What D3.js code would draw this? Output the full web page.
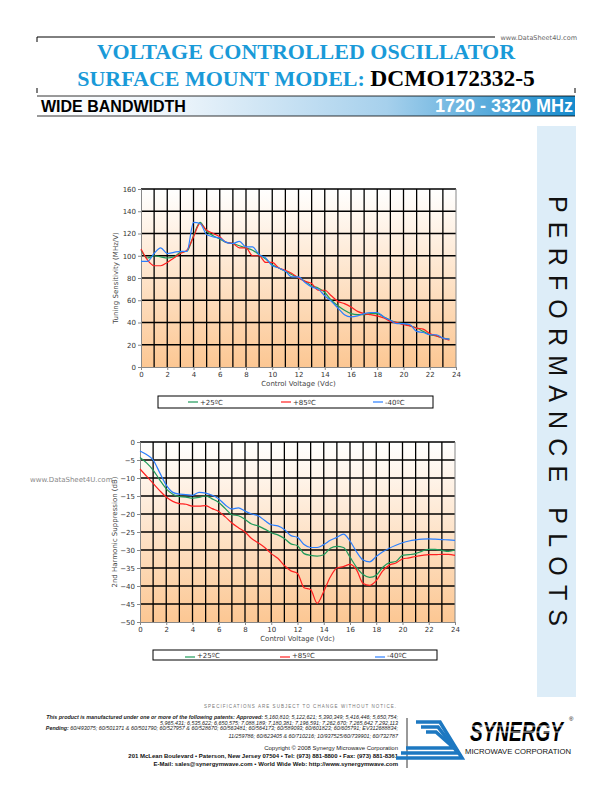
<!DOCTYPE html>
<html>
<head>
<meta charset="utf-8">
<script src="https://cdn.jsdelivr.net/npm/d3@7"></script>
<style>
  html, body { margin: 0; padding: 0; background: #fff; }
  svg { display: block; }
</style>
</head>
<body>
<div id="page"></div>
<script>
// ---- data ----
// Tuning sensitivity (MHz/V) vs control voltage, 0..23.5 V every 0.5 V
var tuneVolts = d3.range(0, 23.51, 0.5);
var tune25 = [105, 98, 100, 99, 98, 99, 103, 104, 118, 130, 122, 118, 115, 112, 111, 109, 107, 105, 101, 97,
  92, 89, 86, 83, 80, 77, 73, 71, 67, 60, 55, 51, 48, 47, 47, 48, 48, 45, 42, 40, 39, 37, 35, 32, 29, 28, 26, 25];
var tune85 = [106, 96, 91, 91, 94, 98, 102, 105, 117, 129, 123, 120, 117, 112, 111, 107, 107, 100, 100, 94,
  94, 89, 87, 84, 80, 77, 75, 69, 69, 64, 59, 57, 54, 50, 48, 47, 46, 44, 41, 40, 38, 37, 35, 34, 30, 28, 26, 24];
var tuneM40 = [95, 95, 102, 107, 102, 103, 104, 104, 130, 129, 119, 117, 116, 112, 111, 113, 108, 108, 101, 98,
  91, 89, 86, 81, 81, 76, 72, 70, 64, 59, 53, 47, 45, 46, 48, 49, 49, 45, 42, 39, 39, 38, 32, 31, 29, 29, 26, 25];

// 2nd harmonic suppression (dB) vs control voltage, 0..24 V every 0.5 V
var harmVolts = d3.range(0, 24.01, 0.5);
var harm25 = [-4.3, -5.8, -7.8, -10.5, -13, -14.5, -15.2, -15.3, -15.6, -15.4, -15, -15.8, -16.8, -18.5, -20.2, -20.5,
  -21.5, -22.8, -23.3, -24.2, -25.2, -25.8, -26.8, -28.3, -28.8, -31, -31.5, -31.7, -31.3, -29.5, -29, -29.3,
  -32, -34.8, -36.8, -37.6, -37, -34.8, -33.5, -33.2, -31.5, -31.3, -31, -30.3, -29.8, -29.8, -30.1, -30.4, -30];
var harm85 = [-7.5, -9.5, -11.5, -13.5, -15.3, -16.5, -17.1, -17.3, -17.8, -17.8, -17.7, -18.5, -19.3, -20.8, -22.5, -23.8,
  -25, -26.8, -28, -29.3, -31, -32.3, -34.3, -35.8, -36.5, -40.5, -41, -44.8, -41.5, -37.5, -35, -34.6,
  -34, -35.5, -39.3, -39.8, -38.5, -35.8, -34.2, -33.6, -32.5, -32.2, -31.8, -31.5, -31.3, -31.3, -31.2, -31.2, -31.5];
var harmM40 = [-2.5, -3.5, -5, -8.5, -12, -14, -14.5, -14.6, -14.8, -14, -14.2, -14.8, -15.8, -17.5, -18.6, -18.3,
  -19.2, -20, -20.5, -21.8, -23, -23.3, -24.3, -26, -26.5, -28.5, -29.3, -29.3, -28.5, -27.3, -26.5, -25.6,
  -27.5, -30.5, -32.8, -33.3, -31.8, -30.5, -29.5, -28.7, -28, -27.5, -27.2, -27, -26.9, -27, -27.1, -27.2, -27.3];

var seriesNames = ["+25ºC", "+85ºC", "-40ºC"];
var seriesColors = ["#1e9a5a", "#ff2020", "#2a7fff"];
var xTicks = d3.range(0, 25, 2);
var tuneTicks = d3.range(0, 161, 20);
var harmTicks = d3.range(-50, 1, 5);

var W = 612, H = 792;
var svg = d3.select("#page").append("svg").attr("width", W).attr("height", H);
var defs = svg.append("defs");

// plot background gradient (white at top -> peach at bottom)
var bg = defs.append("linearGradient").attr("id", "plotbg")
  .attr("x1", 0).attr("y1", 0).attr("x2", 0).attr("y2", 1);
bg.append("stop").attr("offset", "0%").attr("stop-color", "#ffffff");
bg.append("stop").attr("offset", "100%").attr("stop-color", "#fcc793");

// header band gradient
var band = defs.append("linearGradient").attr("id", "band")
  .attr("x1", 0).attr("y1", 0).attr("x2", 1).attr("y2", 0);
band.append("stop").attr("offset", "0%").attr("stop-color", "#ffffff");
band.append("stop").attr("offset", "25%").attr("stop-color", "#eef5fb");
band.append("stop").attr("offset", "65%").attr("stop-color", "#a6d0ec");
band.append("stop").attr("offset", "100%").attr("stop-color", "#168bcd");

// ---- header ----
svg.append("line").attr("x1", 37).attr("x2", 495).attr("y1", 37).attr("y2", 37)
  .attr("stroke", "#000").attr("stroke-width", 1);
svg.append("line").attr("x1", 37).attr("x2", 37).attr("y1", 37).attr("y2", 42).attr("stroke", "#000");
svg.append("line").attr("x1", 37).attr("x2", 37).attr("y1", 88).attr("y2", 93).attr("stroke", "#000");
svg.append("line").attr("x1", 575).attr("x2", 575).attr("y1", 88).attr("y2", 93).attr("stroke", "#000");
svg.append("text").attr("x", 577).attr("y", 39.5).attr("text-anchor", "end")
  .style("font", "6.5px 'DejaVu Sans'").attr("fill", "#666").text("www.DataSheet4U.com");

svg.append("text").attr("x", 306).attr("y", 59).attr("text-anchor", "middle")
  .style("font", "bold 22px 'Liberation Serif'").attr("fill", "#1a9ad8")
  .text("VOLTAGE CONTROLLED OSCILLATOR");
var t2 = svg.append("text").attr("x", 306).attr("y", 86).attr("text-anchor", "middle")
  .style("font-family", "'Liberation Serif'").style("font-weight", "bold");
t2.append("tspan").attr("fill", "#1a9ad8").style("font-size", "22px").text("SURFACE MOUNT MODEL: ");
t2.append("tspan").attr("fill", "#000").style("font-size", "23.5px").text("DCMO172332-5");

svg.append("rect").attr("x", 37).attr("y", 96).attr("width", 538).attr("height", 20)
  .attr("fill", "url(#band)");
svg.append("line").attr("x1", 37).attr("x2", 575).attr("y1", 96).attr("y2", 96).attr("stroke", "#000").attr("stroke-width", 0.8);
svg.append("line").attr("x1", 37).attr("x2", 575).attr("y1", 116).attr("y2", 116).attr("stroke", "#000").attr("stroke-width", 0.8);
svg.append("text").attr("x", 41).attr("y", 112)
  .style("font", "bold 16px 'Liberation Sans'").attr("fill", "#000").text("WIDE BANDWIDTH");
svg.append("text").attr("x", 573).attr("y", 112).attr("text-anchor", "end")
  .style("font", "bold 18px 'Liberation Sans'").attr("fill", "#fff").text("1720 - 3320 MHz");

// ---- side panel ----
svg.append("rect").attr("x", 537).attr("y", 126).attr("width", 39).attr("height", 571).attr("fill", "#ddedf8");
svg.append("text").attr("transform", "translate(549,196) rotate(90)")
  .attr("textLength", 430).attr("lengthAdjust", "spacing")
  .style("font", "25px 'Liberation Sans'").attr("fill", "#111").text("PERFORMANCE PLOTS");

svg.append("text").attr("x", 30).attr("y", 482)
  .style("font", "7px 'DejaVu Sans'").attr("fill", "#888").text("www.DataSheet4U.com");

// ---- chart function ----
function drawChart(cfg) {
  var x = d3.scaleLinear().domain([0, 24]).range([cfg.left, cfg.right]);
  var y = d3.scaleLinear().domain(cfg.yDomain).range([cfg.bottom, cfg.top]);
  var g = svg.append("g");

  g.append("rect").attr("x", x(0)).attr("y", y(cfg.yDomain[1]))
    .attr("width", x(24) - x(0)).attr("height", y(cfg.yDomain[0]) - y(cfg.yDomain[1]))
    .attr("fill", "url(#plotbg)");

  // grid: every volt vertically, every y tick horizontally
  g.selectAll(".vg").data(d3.range(1, 24)).enter().append("line")
    .attr("x1", function (d) { return x(d); }).attr("x2", function (d) { return x(d); })
    .attr("y1", y(cfg.yDomain[0])).attr("y2", y(cfg.yDomain[1]))
    .attr("stroke", "#000").attr("stroke-width", 1.3);
  g.selectAll(".hg").data(cfg.yTicks.slice(1)).enter().append("line")
    .attr("x1", x(0)).attr("x2", x(24))
    .attr("y1", function (d) { return y(d); }).attr("y2", function (d) { return y(d); })
    .attr("stroke", "#000").attr("stroke-width", 1.3);
  // right edge
  g.append("line").attr("x1", x(24)).attr("x2", x(24))
    .attr("y1", y(cfg.yDomain[0])).attr("y2", y(cfg.yDomain[1]))
    .attr("stroke", "#888").attr("stroke-width", 1);

  var xAxis = g.append("g").attr("transform", "translate(0," + y(cfg.yDomain[0]) + ")")
    .call(d3.axisBottom(x).tickValues(xTicks).tickSize(3).tickPadding(2));
  var yAxis = g.append("g").attr("transform", "translate(" + x(0) + ",0)")
    .call(d3.axisLeft(y).tickValues(cfg.yTicks).tickSize(3).tickPadding(2));
  [xAxis, yAxis].forEach(function (a) {
    a.select(".domain").attr("stroke", "#888");
    a.selectAll(".tick line").attr("stroke", "#888");
    a.selectAll("text").style("font", "7px 'DejaVu Sans'").attr("fill", "#333");
  });

  var line = d3.line()
    .x(function (d) { return x(d[0]); })
    .y(function (d) { return y(d[1]); })
    .curve(d3.curveMonotoneX);
  cfg.series.forEach(function (s, i) {
    g.append("path")
      .datum(cfg.volts.map(function (v, k) { return [v, s[k]]; }))
      .attr("d", line).attr("fill", "none")
      .attr("stroke", seriesColors[i]).attr("stroke-width", 1.2);
  });

  g.append("text").attr("x", (cfg.left + cfg.right) / 2).attr("y", cfg.bottom + 19)
    .attr("text-anchor", "middle").style("font", "7px 'DejaVu Sans'").attr("fill", "#444")
    .text("Control Voltage (Vdc)");
  g.append("text")
    .attr("transform", "translate(" + cfg.yLabelX + "," + (cfg.top + cfg.bottom) / 2 + ") rotate(-90)")
    .attr("text-anchor", "middle").style("font", "7px 'DejaVu Sans'").attr("fill", "#444")
    .text(cfg.yLabel);

  // legend
  var lg = g.append("g");
  lg.append("rect").attr("x", cfg.legend.x).attr("y", cfg.legend.y)
    .attr("width", cfg.legend.w).attr("height", cfg.legend.h)
    .attr("fill", "#fff").attr("stroke", "#000").attr("stroke-width", 1);
  seriesNames.forEach(function (name, i) {
    var lx = cfg.legend.items[i];
    lg.append("line").attr("x1", lx).attr("x2", lx + 10)
      .attr("y1", cfg.legend.y + cfg.legend.lineDy).attr("y2", cfg.legend.y + cfg.legend.lineDy)
      .attr("stroke", seriesColors[i]).attr("stroke-width", 1.2);
    lg.append("text").attr("x", lx + 12).attr("y", cfg.legend.y + cfg.legend.h / 2 + 2.5)
      .style("font", "7px 'DejaVu Sans'").attr("fill", "#333").text(name);
  });
}

drawChart({
  left: 141, right: 456, top: 189, bottom: 367,
  yDomain: [0, 160], yTicks: tuneTicks, volts: tuneVolts,
  series: [tune25, tune85, tuneM40],
  yLabel: "Tuning Sensitivity (MHz/V)", yLabelX: 118,
  legend: { x: 158, y: 396, w: 275, h: 12, lineDy: 6, items: [188, 281, 373] }
});

drawChart({
  left: 140, right: 455, top: 442, bottom: 622,
  yDomain: [-50, 0], yTicks: harmTicks, volts: harmVolts,
  series: [harm25, harm85, harmM40],
  yLabel: "2nd Harmonic Suppression (dB)", yLabelX: 117,
  legend: { x: 153, y: 650, w: 284, h: 10, lineDy: 7, items: [185, 280, 375] }
});

// ---- footer ----
svg.append("text").attr("x", 396).attr("y", 708).attr("text-anchor", "end")
  .attr("textLength", 192).attr("lengthAdjust", "spacing")
  .style("font", "4.5px 'Liberation Sans'").attr("fill", "#777")
  .text("SPECIFICATIONS ARE SUBJECT TO CHANGE WITHOUT NOTICE.");

var patentLines = [
  ["This product is manufactured under one or more of the following patents: Approved: ", "5,160,810; 5,122,621; 5,390,349; 5,416,446; 5,650,754;"],
  ["", "5,965,431; 6,535,622; 6,650,575; 7,088,189; 7,180,381; 7,196,591; 7,262,670; 7,265,642 7,292,113"],
  ["Pending: ", "60/493075; 60/501371 & 60/501790; 60/527957 & 60/528670; 60/563481; 60/564173; 60/589093; 60/601823; 60/605791; EV312688834;"],
  ["", "11/259786; 60/623405 & 60/710216; 10/937525/60/739901; 60/732787"]
];
var patentY = [719, 724.5, 730, 738];
patentLines.forEach(function (t, i) {
  var tx = svg.append("text").attr("x", 398).attr("y", patentY[i]).attr("text-anchor", "end")
    .style("font", "italic 5.4px 'Liberation Sans'").attr("fill", "#222");
  if (t[0]) tx.append("tspan").style("font-weight", "bold").text(t[0]);
  tx.append("tspan").text(t[1]);
});
svg.append("text").attr("x", 398).attr("y", 750).attr("text-anchor", "end")
  .style("font", "6px 'Liberation Sans'").attr("fill", "#222")
  .text("Copyright © 2008 Synergy Microwave Corporation");
svg.append("text").attr("x", 398).attr("y", 758).attr("text-anchor", "end")
  .style("font", "bold 6px 'Liberation Sans'").attr("fill", "#111")
  .text("201 McLean Boulevard • Paterson, New Jersey 07504 • Tel: (973) 881-8800 • Fax: (973) 881-8361");
svg.append("text").attr("x", 398).attr("y", 766).attr("text-anchor", "end")
  .style("font", "bold 6px 'Liberation Sans'").attr("fill", "#111")
  .text("E-Mail: sales@synergymwave.com • World Wide Web: http://www.synergymwave.com");
svg.append("line").attr("x1", 407).attr("x2", 407).attr("y1", 718).attr("y2", 768)
  .attr("stroke", "#000").attr("stroke-width", 0.8);

// ---- logo ----
var logo = svg.append("g");
[0, 1, 2].forEach(function (i) {
  var pts = [[416 + 5 * i, 722 + 5 * i], [440 - 2 * i, 722 + 5 * i], [462 - 4 * i, 758 - 5 * i], [396 + 5 * i, 758 - 5 * i]];
  logo.append("path").attr("d", d3.line()(pts)).attr("fill", "none")
    .attr("stroke", "#1d78c1").attr("stroke-width", 3.6).attr("stroke-linejoin", "miter");
});
// word mark: narrow-ish font stretched vertically so its box stays compact
logo.append("text").attr("transform", "translate(470,741) scale(1,1.45)")
  .style("font", "italic 900 19px 'Liberation Sans'").attr("fill", "#000").text("SYNERGY");
[726, 732].forEach(function (yy) {
  logo.append("line").attr("x1", 468).attr("x2", 566).attr("y1", yy).attr("y2", yy)
    .attr("stroke", "#fff").attr("stroke-width", 0.8);
});
logo.append("text").attr("x", 569).attr("y", 721).style("font", "6px 'Liberation Sans'").text("®");
logo.append("text").attr("x", 465).attr("y", 754).attr("textLength", 106).attr("lengthAdjust", "spacingAndGlyphs")
  .style("font", "7.5px 'Liberation Sans'").attr("fill", "#111").text("MICROWAVE CORPORATION");
</script>
</body>
</html>
